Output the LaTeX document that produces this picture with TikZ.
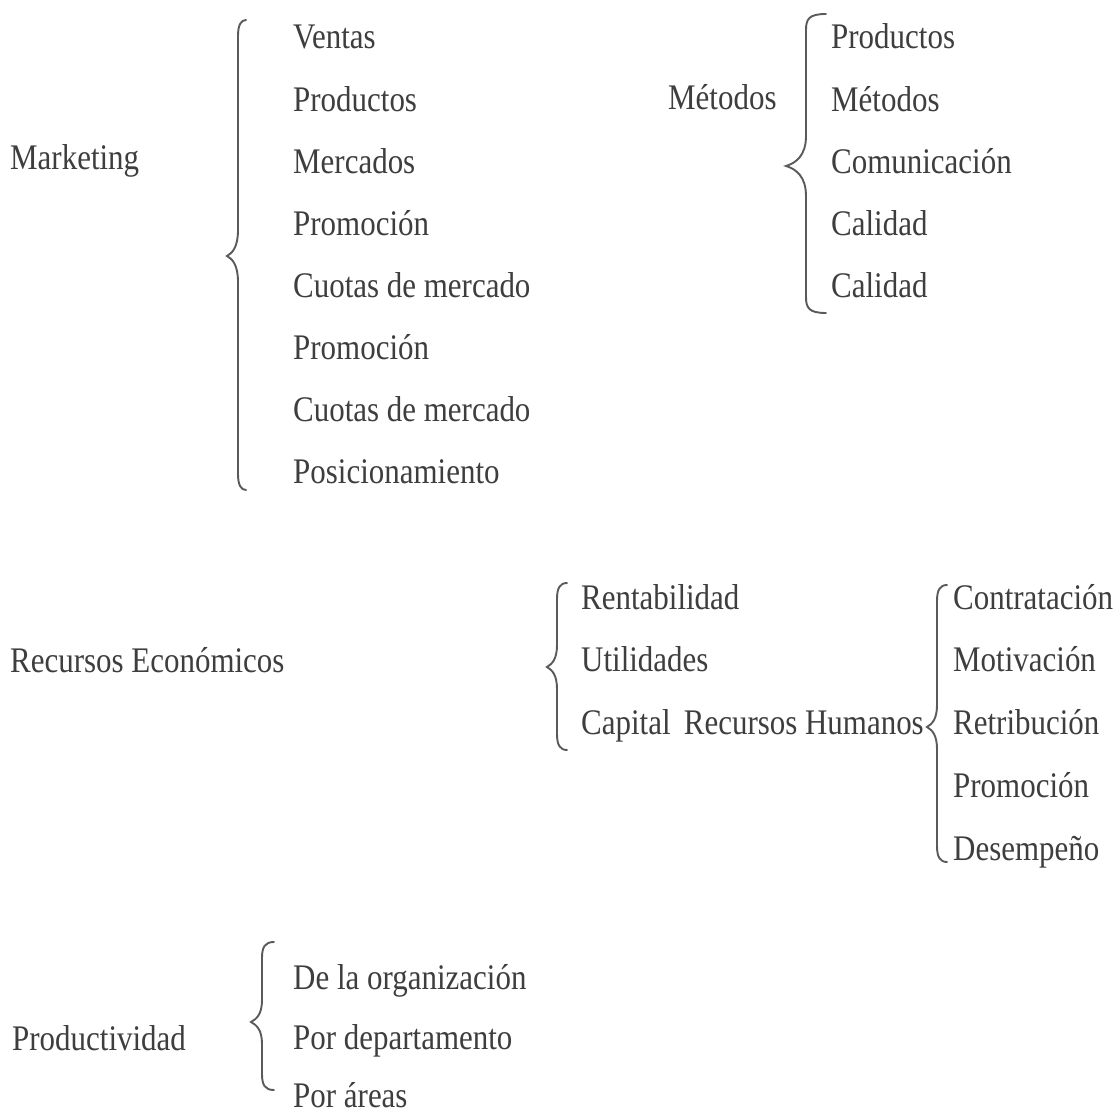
\documentclass[tikz,border=0pt]{standalone}
\usepackage{fontspec}
\setmainfont{Liberation Serif}[FakeStretch=0.86]
\definecolor{txtgray}{HTML}{3E3E3E}
\definecolor{brgray}{HTML}{5A5A5A}
% curly brace: #1 stem x, #2 tip x, #3 end x, #4 top y, #5 tip y, #6 bottom y, #7 tip half-height
\newcommand\cbrace[7]{%
  \draw[brace] (#3,#4) .. controls ({#1+3},#4) and (#1,{#4+5}) .. (#1,{#4+16})
    -- (#1,{#5-#7}) .. controls (#1,{#5-0.35*#7}) and ({0.5*#1+0.5*#2},{#5-3}) .. (#2,#5)
    .. controls ({0.5*#1+0.5*#2},{#5+3}) and (#1,{#5+0.35*#7}) .. (#1,{#5+#7})
    -- (#1,{#6-16}) .. controls (#1,{#6-5}) and ({#1+3},#6) .. (#3,#6);}
\begin{document}
\begin{tikzpicture}[x=1pt,y=-1pt,
  lbl/.style={anchor=base west, inner sep=0pt, text=txtgray,
    font=\fontsize{36}{40}\selectfont},
  brace/.style={draw=brgray, line width=1.9pt, line cap=round}]
\useasboundingbox[fill=white] (0,0) rectangle (1120,1115);

% Marketing
\node[lbl] (mk) at (10,170) {Marketing};
\cbrace{238}{227}{246}{20}{256}{490}{26}
\foreach \t [count=\i from 0] in {Ventas,Productos,Mercados,Promoción,Cuotas de mercado,Promoción,Cuotas de mercado,Posicionamiento}
  \node[lbl] (mk\i) at (293,{49+62.14*\i}) {\t};

% Métodos
\node[lbl] (me) at (668,110) {Métodos};
\cbrace{806}{786}{826}{14}{166}{313}{30}
\foreach \t [count=\i from 0] in {Productos,Métodos,Comunicación,Calidad,Calidad}
  \node[lbl] (me\i) at (831,{49+62.14*\i}) {\t};

% Recursos Económicos
\node[lbl] (re) at (10,672) {Recursos Económicos};
\cbrace{557}{547}{567}{583}{667}{750}{22}
\foreach \t [count=\i from 0] in {Rentabilidad,Utilidades,Capital}
  \node[lbl] (re\i) at (581,{609+62.5*\i}) {\t};

% Recursos Humanos
\node[lbl, anchor=base east] (rh) at (924,734) {Recursos Humanos};
\cbrace{937}{927}{947}{585}{727}{862}{22}
\foreach \t [count=\i from 0] in {Contratación,Motivación,Retribución,Promoción,Desempeño}
  \node[lbl] (rh\i) at (953,{609+62.75*\i}) {\t};

% Productividad
\node[lbl] (pr) at (12,1050) {Productividad};
\cbrace{262}{251}{274}{942}{1022}{1090}{22}
\node[lbl] (pr0) at (293,989) {De la organización};
\node[lbl] (pr1) at (293,1049) {Por departamento};
\node[lbl] (pr2) at (293,1107) {Por áreas};
\end{tikzpicture}
\end{document}
